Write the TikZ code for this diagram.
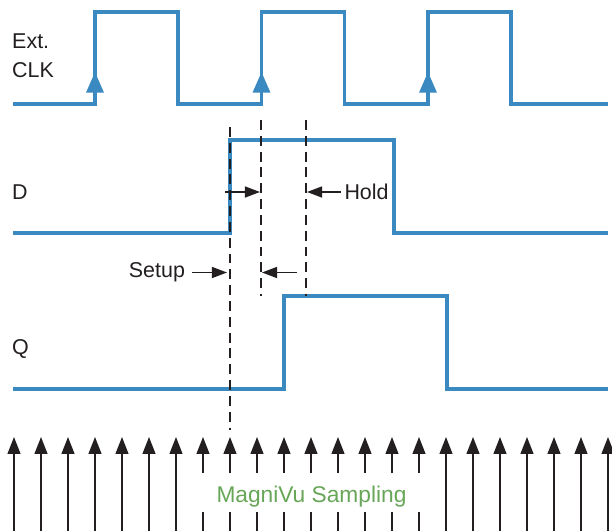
\documentclass[tikz,border=0pt]{standalone}
\usepackage{fontspec}
\setmainfont{Liberation Sans}
\usetikzlibrary{arrows.meta, positioning}
\definecolor{sigblue}{RGB}{58,137,192}
\definecolor{sampgreen}{RGB}{104,166,88}
\definecolor{inkgray}{RGB}{35,31,32}

\begin{document}
\begin{tikzpicture}[
    x=0.03cm, y=-0.03cm,
    every node/.style={font=\fontsize{18.3}{24.7}\selectfont, text=inkgray, inner sep=0pt},
    signal/.style={sigblue, line width=2.6pt, line join=miter},
    edgetip/.style={sigblue, line width=2.6pt, -{Triangle[length=17.5pt, width=14.5pt]}},
    guide/.style={inkgray, line width=1.2pt, dash pattern=on 8.5pt off 5pt},
    timing/.style={inkgray, line width=1.3pt, -{Triangle[length=13pt, width=9.5pt]}},
    sample/.style={inkgray, line width=1.4pt, -{Triangle[length=14.5pt, width=11pt]}},
    stub/.style={inkgray, line width=1.4pt}
  ]

    \useasboundingbox[fill=white] (0,0) rectangle (612,531);

    % Signal labels
    \node[align=left, anchor=north west] (clklbl) at (12,34) {Ext.\\CLK};
    \node[anchor=base west] (dlbl) at (12,199) {D};
    \node[anchor=base west] (qlbl) at (12,354) {Q};

    % Ext. CLK waveform
    \draw[signal] (13,104) -- (95,104) -- (95,12) -- (178,12) -- (178,104)
      -- (261.5,104) -- (261.5,12) -- (344.5,12) -- (344.5,104)
      -- (428,104) -- (428,12) -- (511,12) -- (511,104) -- (608,104);
    \foreach \r in {95,261.5,428} {
      \draw[edgetip] (\r,104) -- (\r,72);
    }

    % D and Q waveforms
    \draw[signal] (13,233) -- (230,233) -- (230,140) -- (394,140) -- (394,233) -- (608,233);
    \draw[signal] (13,389) -- (284,389) -- (284,296) -- (447,296) -- (447,389) -- (608,389);

    % Dashed guides
    \draw[guide] (230,127) -- (230,430);
    \draw[guide] (261,120) -- (261,296);
    \draw[guide] (306,120) -- (306,296);

    % Setup and hold markers
    \node[anchor=west, outer sep=3pt] (hold) at (341,192) {Hold};
    \node[anchor=east, outer sep=6pt] (setup) at (192,272.5) {Setup};
    \coordinate (holdtip) at (307,192);
    \coordinate (setuptip) at (227,272.5);
    \coordinate (dfrom) at (225,192);
    \coordinate (dto) at (260,192);
    \coordinate (lagfrom) at (297,272.5);
    \coordinate (lagto) at (262,272.5);
    \draw[timing] (hold.west) -- (hold.west -| holdtip);
    \draw[timing] (setup.east) -- (setup.east -| setuptip);
    \draw[timing] (dfrom) -- (dto);
    \draw[timing] (lagfrom) -- (lagto);

    % MagniVu sampling arrows
    \foreach \sx in {14,41,...,176} {
      \draw[sample] (\sx,532) -- (\sx,437);
    }
    \foreach \sx in {446,473,...,608} {
      \draw[sample] (\sx,532) -- (\sx,437);
    }
    \foreach \sx in {203,230,...,419} {
      \draw[sample] (\sx,473) -- (\sx,437);
      \draw[stub] (\sx,512) -- (\sx,532);
    }
    \node[anchor=base, text=sampgreen, font=\fontsize{19.4}{23}\selectfont] (magnivu) at (311.5,502) {MagniVu Sampling};

  \end{tikzpicture}
\end{document}
